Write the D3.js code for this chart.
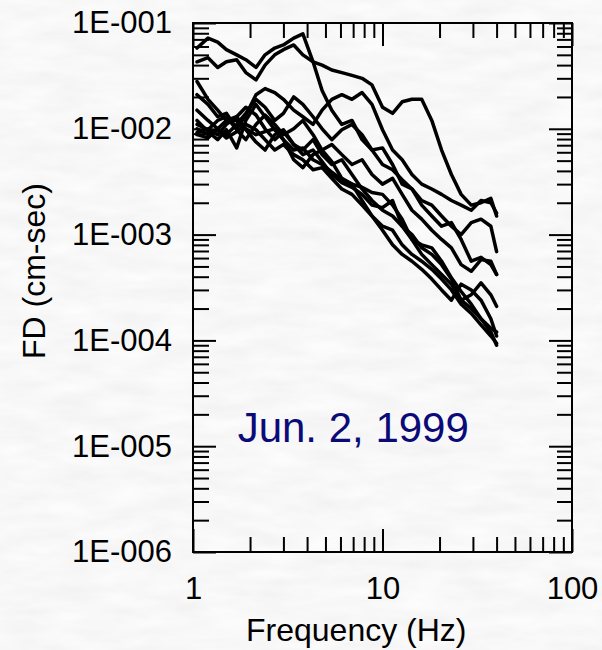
<!DOCTYPE html>
<html>
<head>
<meta charset="utf-8">
<script src="https://cdn.jsdelivr.net/npm/d3@7/dist/d3.min.js"></script>
<style>
  body { margin: 0; background: #eeeeee; }
  svg { display: block; }
</style>
</head>
<body>
<div class="chart"></div>
<script>
// FD spectra, Jun. 2, 1999 - one array per record, values in cm-sec
const freqs = [1.05, 1.2, 1.35, 1.5, 1.7, 1.9, 2.15, 2.4, 2.7, 3.0, 3.4, 3.8, 4.3, 4.8, 5.4, 6.1,
               6.9, 7.8, 8.8, 10, 11.3, 12.7, 14.3, 16.1, 18.2, 20.5, 23.1, 26, 29.4, 33.1, 37.3, 40]

const rec1 = [0.058, 0.072, 0.066, 0.056, 0.050, 0.045, 0.038, 0.050, 0.058, 0.062, 0.072, 0.079, 0.043, 0.023, 0.015, 0.011,
              0.012, 0.0079, 0.0063, 0.0066, 0.0046, 0.0030, 0.0027, 0.0019, 0.0015, 0.0012, 0.0013, 0.00090, 0.00056, 0.00061, 0.00052, 0.00042]
const rec2 = [0.043, 0.047, 0.038, 0.043, 0.045, 0.034, 0.029, 0.040, 0.050, 0.056, 0.062, 0.050, 0.043, 0.040, 0.036, 0.034,
              0.032, 0.030, 0.026, 0.016, 0.014, 0.018, 0.019, 0.019, 0.012, 0.0063, 0.0037, 0.0024, 0.0019, 0.0020, 0.0022, 0.0015]
const rec3 = [0.021, 0.017, 0.013, 0.014, 0.010, 0.0135, 0.021, 0.024, 0.022, 0.019, 0.015, 0.013, 0.011, 0.015, 0.019, 0.021,
              0.019, 0.022, 0.017, 0.0098, 0.0063, 0.0051, 0.0037, 0.0030, 0.0027, 0.0024, 0.0021, 0.0019, 0.0017, 0.0021, 0.0020, 0.0016]
const rec4 = [0.015, 0.012, 0.010, 0.0088, 0.011, 0.014, 0.019, 0.016, 0.012, 0.014, 0.020, 0.017, 0.013, 0.010, 0.0079, 0.0098,
              0.011, 0.0088, 0.0063, 0.0046, 0.0041, 0.0033, 0.0027, 0.0021, 0.0019, 0.0015, 0.0012, 0.0010, 0.0013, 0.0014, 0.0012, 0.00069]
const rec5 = [0.011, 0.0098, 0.012, 0.013, 0.0098, 0.0079, 0.011, 0.0135, 0.011, 0.0088, 0.010, 0.012, 0.0088, 0.0063, 0.0071, 0.0057,
              0.0046, 0.0051, 0.0037, 0.0030, 0.0034, 0.0024, 0.0017, 0.0014, 0.0011, 0.00090, 0.00075, 0.00052, 0.00045, 0.00058, 0.00056, 0.00042]
const rec6 = [0.0092, 0.010, 0.0088, 0.011, 0.013, 0.016, 0.0135, 0.010, 0.0079, 0.0094, 0.0071, 0.0063, 0.0079, 0.0057, 0.0046, 0.0051,
              0.0037, 0.0027, 0.0021, 0.0017, 0.0015, 0.0012, 0.0010, 0.00075, 0.00065, 0.00052, 0.00038, 0.00024, 0.00027, 0.00035, 0.00027, 0.00021]
const rec7 = [0.012, 0.0094, 0.0079, 0.0098, 0.0066, 0.012, 0.017, 0.013, 0.0098, 0.0079, 0.0063, 0.0066, 0.0051, 0.0046, 0.0039, 0.0033,
              0.0030, 0.0028, 0.0025, 0.0024, 0.0019, 0.0014, 0.00090, 0.00065, 0.00052, 0.00042, 0.00034, 0.00024, 0.00020, 0.00016, 0.00013, 0.00012]
const rec8 = [0.010, 0.0088, 0.0098, 0.0082, 0.0094, 0.011, 0.0098, 0.0079, 0.0063, 0.0071, 0.0057, 0.0051, 0.0041, 0.0043, 0.0034, 0.0027,
              0.0024, 0.0019, 0.0015, 0.0012, 0.0011, 0.00080, 0.00065, 0.00056, 0.00047, 0.00038, 0.00030, 0.00022, 0.00018, 0.00014, 0.00011, 0.000094]
const rec9 = [0.0088, 0.0082, 0.010, 0.012, 0.012, 0.0098, 0.0075, 0.0063, 0.0088, 0.0098, 0.0071, 0.0057, 0.0063, 0.0049, 0.0037, 0.0031,
              0.0028, 0.0024, 0.0019, 0.0018, 0.0021, 0.0012, 0.00090, 0.00080, 0.00075, 0.00056, 0.00039, 0.00029, 0.00022, 0.00016, 0.00012, 0.000090]
const rec10 = [0.028, 0.019, 0.015, 0.012, 0.013, 0.010, 0.0088, 0.0094, 0.010, 0.0079, 0.0051, 0.0043, 0.0057, 0.0063, 0.0049, 0.0034,
               0.0030, 0.0021, 0.0015, 0.0011, 0.00080, 0.00065, 0.00056, 0.00047, 0.00038, 0.00030, 0.00024, 0.00034, 0.00030, 0.00024, 0.00016, 0.00011]

const records = [rec1, rec2, rec3, rec4, rec5, rec6, rec7, rec8, rec9, rec10]

const xDecades = [1, 10, 100]
const yDecades = [1e-6, 1e-5, 1e-4, 1e-3, 1e-2, 1e-1]
const dateLabel = 'Jun. 2, 1999'
const xTitle = 'Frequency (Hz)'
const yTitle = 'FD (cm-sec)'

// Set up the canvas
const W = 602
const H = 650
const margin = {top: 23, right: 30, bottom: 98, left: 193}
const width = W - margin.left - margin.right
const height = H - margin.top - margin.bottom
const font = 'Arial, "Liberation Sans", sans-serif'

const svg = d3.select('.chart')
    .append('svg')
    .attr('width', W)
    .attr('height', H)

// speckled grey paper background
const paper = svg.append('defs').append('filter')
    .attr('id', 'paper')
    .attr('x', 0).attr('y', 0).attr('width', '100%').attr('height', '100%')
paper.append('feTurbulence')
    .attr('type', 'fractalNoise')
    .attr('baseFrequency', '0.02 0.07')
    .attr('numOctaves', 3)
    .attr('seed', 7)
paper.append('feColorMatrix')
    .attr('type', 'matrix')
    .attr('values', '0.12 0 0 0 0.875  0.12 0 0 0 0.875  0.12 0 0 0 0.875  0 0 0 0 1')
svg.append('rect')
    .attr('width', W)
    .attr('height', H)
    .attr('filter', 'url(#paper)')

const g = svg.append('g')
    .attr('transform', 'translate(' + margin.left + ',' + margin.top + ')')

const xScale = d3.scaleLog().domain([1, 100]).range([0, width])
const yScale = d3.scaleLog().domain([1e-6, 1e-1]).range([height, 0])

// minor ticks 2..9 inside every decade
const minorOf = decades => decades.slice(0, -1).flatMap(d => d3.range(2, 10).map(k => k * d))
const xMinor = minorOf(xDecades)
const yMinor = minorOf(yDecades)

const yFormat = d => '1E-' + String(-Math.round(Math.log10(d))).padStart(3, '0')

const addAxis = (axis, transform) => {
    const a = g.append('g')
        .attr('transform', transform)
        .call(axis.tickSizeOuter(0))
    a.select('.domain').remove()
    a.selectAll('.tick line').attr('stroke', '#000').attr('stroke-width', 2)
    a.selectAll('.tick text')
        .attr('fill', '#000')
        .style('font-family', font)
        .style('font-size', '31px')
    return a
}

// X-axis (bottom with labels, top without)
addAxis(d3.axisBottom(xScale).tickValues(xMinor).tickSizeInner(-15).tickFormat(''), 'translate(0,' + height + ')')
addAxis(d3.axisBottom(xScale).tickValues(xDecades).tickSizeInner(-23).tickPadding(25).tickFormat(d3.format('d')), 'translate(0,' + height + ')')
addAxis(d3.axisTop(xScale).tickValues(xMinor).tickSizeInner(-15).tickFormat(''), 'translate(0,0)')
addAxis(d3.axisTop(xScale).tickValues(xDecades).tickSizeInner(-23).tickFormat(''), 'translate(0,0)')

// Y-axis (left with labels, right without)
addAxis(d3.axisLeft(yScale).tickValues(yMinor).tickSizeInner(-16).tickFormat(''), 'translate(0,0)')
addAxis(d3.axisLeft(yScale).tickValues(yDecades).tickSizeInner(-23).tickPadding(21).tickFormat(yFormat), 'translate(0,0)')
addAxis(d3.axisRight(yScale).tickValues(yMinor).tickSizeInner(-15).tickFormat(''), 'translate(' + width + ',0)')
addAxis(d3.axisRight(yScale).tickValues(yDecades).tickSizeInner(-23).tickFormat(''), 'translate(' + width + ',0)')

// frame
g.append('rect')
    .attr('width', width)
    .attr('height', height)
    .attr('fill', 'none')
    .attr('stroke', '#000')
    .attr('stroke-width', 2)

// spectra
const line = d3.line()
    .x((d, i) => xScale(freqs[i]))
    .y(d => yScale(d))

g.selectAll('.spec')
    .data(records)
    .enter()
    .append('path')
    .attr('class', 'spec')
    .attr('d', line)
    .attr('fill', 'none')
    .attr('stroke', '#000')
    .attr('stroke-width', 3.5)
    .attr('stroke-linejoin', 'round')
    .attr('stroke-linecap', 'round')

// event date
g.append('text')
    .attr('x', xScale(1.72))
    .attr('y', yScale(1.1e-5))
    .attr('fill', '#0a0a78')
    .style('font-family', font)
    .style('font-size', '42px')
    .text(dateLabel)

// axis titles
svg.append('text')
    .attr('x', 246)
    .attr('y', 641)
    .attr('fill', '#000')
    .style('font-family', font)
    .style('font-size', '32px')
    .text(xTitle)

svg.append('text')
    .attr('transform', 'translate(45,271) rotate(-90)')
    .attr('text-anchor', 'middle')
    .attr('fill', '#000')
    .style('font-family', font)
    .style('font-size', '32px')
    .text(yTitle)
</script>
</body>
</html>
